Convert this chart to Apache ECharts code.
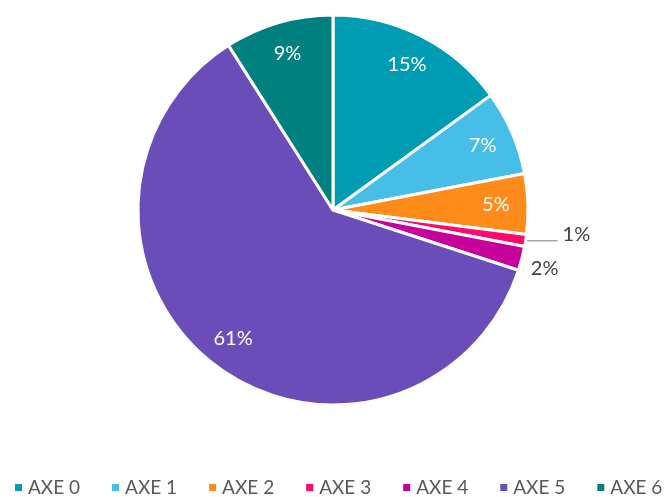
<!DOCTYPE html>
<html>
<head>
<meta charset="utf-8">
<script src="https://cdn.jsdelivr.net/npm/echarts@6/dist/echarts.min.js"></script>
<style>
  html, body { margin: 0; padding: 0; background: #fff; }
  #chart { width: 665px; height: 497px; }
</style>
</head>
<body>
<div id="chart"></div>
<script>
// categories / values
var categories = ['AXE 0', 'AXE 1', 'AXE 2', 'AXE 3', 'AXE 4', 'AXE 5', 'AXE 6'];
var values = [15, 7, 5, 1, 2, 61, 9];
var colors = ['#009cb4', '#47bee7', '#ff8b1a', '#ff0a6c', '#c5009b', '#6b4db9', '#00807f'];

var font = 'Lato, "Noto Sans", sans-serif';

var chart = echarts.init(document.getElementById('chart'));

var pieData = categories.map(function (c, i) {
  return { name: c, value: values[i] };
});

// overlay ring only carries the labels (so inner labels sit near the rim like Excel)
var labelData = categories.map(function (c, i) {
  var item = { name: c, value: values[i] };
  if (c === 'AXE 3') {
    item.label = { position: 'outside', color: '#404040', offset: [0, -6] };
    item.labelLine = { show: true, length: 2, length2: 30, lineStyle: { color: '#a6a6a6', width: 1.5 } };
  } else if (c === 'AXE 4') {
    item.label = { position: 'outside', color: '#404040', offset: [0, 10] };
    item.labelLine = { show: false, length: 2, length2: 2 };
  }
  return item;
});

chart.setOption({
  animation: false,
  color: colors,
  legend: {
    top: 478,
    left: 13,
    width: 655,
    padding: 0,
    icon: 'rect',
    itemWidth: 9,
    itemHeight: 9,
    itemGap: 30,
    textStyle: { fontFamily: font, fontSize: 19, color: '#595959' },
    data: categories
  },
  series: [
    {
      type: 'pie',
      center: [333, 210],
      radius: [0, 195],
      startAngle: 90,
      clockwise: true,
      avoidLabelOverlap: false,
      silent: true,
      itemStyle: { borderColor: '#fff', borderWidth: 3 },
      label: { show: false },
      labelLine: { show: false },
      data: pieData
    },
    {
      type: 'pie',
      center: [333, 210],
      radius: [125, 195],
      startAngle: 90,
      clockwise: true,
      avoidLabelOverlap: false,
      silent: true,
      legendHoverLink: false,
      itemStyle: { color: 'rgba(0,0,0,0)' },
      label: {
        show: true,
        position: 'inside',
        formatter: '{c}%',
        fontFamily: font,
        fontSize: 20,
        color: '#fff'
      },
      labelLine: { show: false },
      data: labelData
    }
  ]
});
</script>
</body>
</html>
